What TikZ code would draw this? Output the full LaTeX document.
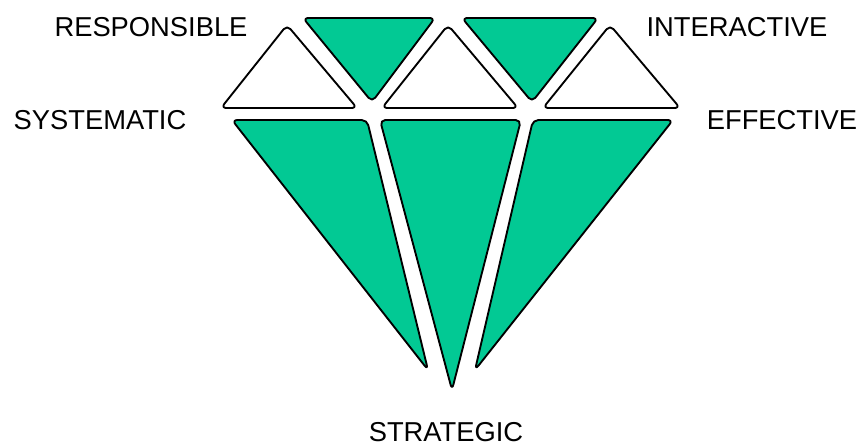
\documentclass[tikz,border=0pt]{standalone}
\usepackage{fontspec}
\setmainfont{Liberation Sans}
\usepackage{tikz}
\usetikzlibrary{positioning}
\definecolor{gemgreen}{HTML}{02C994}

\begin{document}
\begin{tikzpicture}[
  x=0.75pt, y=-0.75pt,
  facet/.style={draw=black, line width=1.4pt, rounded corners=4pt, line join=round},
  greenfacet/.style={facet, fill=gemgreen},
  whitefacet/.style={facet, fill=white},
  lbl/.style={font=\fontsize{20.5pt}{22pt}\selectfont, inner sep=0pt}
]
\useasboundingbox (0,0) rectangle (863,446);

% top row
\draw[whitefacet] (287,25) -- (357,108) -- (221,108) -- cycle;
\draw[greenfacet] (303,18) -- (435,18) -- (372,102) -- cycle;
\draw[whitefacet] (448,25) -- (518,108) -- (382,108) -- cycle;
\draw[greenfacet] (462,18) -- (598,18) -- (532,102) -- cycle;
\draw[whitefacet] (610,25) -- (680,108) -- (543,108) -- cycle;

% lower row
\draw[greenfacet] (232,120) -- (367,120) -- (428,370) -- cycle;
\draw[greenfacet] (380,120) -- (521,120) -- (452,390) -- cycle;
\draw[greenfacet] (533,120) -- (673,120) -- (475,370) -- cycle;

% labels
\node[lbl] (responsible) at (151,27) {RESPONSIBLE};
\node[lbl] (interactive) at (737,27) {INTERACTIVE};
\node[lbl] (systematic) at (100,120) {SYSTEMATIC};
\node[lbl] (effective) at (782,120) {EFFECTIVE};
\node[lbl] (strategic) at (446,432) {STRATEGIC};
\end{tikzpicture}
\end{document}
